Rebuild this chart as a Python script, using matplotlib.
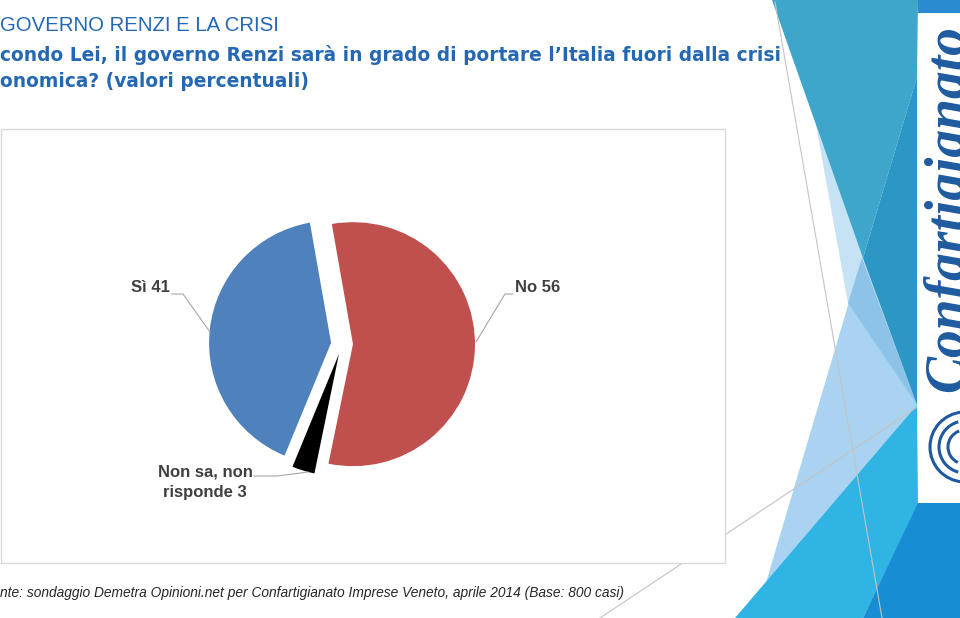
import numpy as np
import matplotlib.pyplot as plt
from matplotlib.patches import Polygon, Rectangle, Arc

# Data
labels = ['No', 'Non sa, non\nrisponde', 'Sì']
values = [56, 3, 41]
colors = ['#C0504D', '#000000', '#4F81BD']
explode = [0.09, 0.085, 0.09]  # fraction of radius

title_1 = 'GOVERNO RENZI E LA CRISI'
title_2 = 'condo Lei, il governo Renzi sarà in grado di portare l’Italia fuori dalla crisi'
title_3 = 'onomica? (valori percentuali)'
source = 'nte: sondaggio Demetra Opinioni.net per Confartigianato Imprese Veneto, aprile 2014 (Base: 800 casi)'

W, H = 960, 618
blue_txt = '#2468B4'

fig = plt.figure(figsize=(W / 100, H / 100), dpi=100)
renderer = fig.canvas.get_renderer()


def fit_width(t, target):
    # scale the font so the text spans target pixels
    w = t.get_window_extent(renderer).width
    t.set_fontsize(t.get_fontsize() * target / w)
    return t.get_fontsize()


# background layer in pixel coordinates
bg = fig.add_axes([0, 0, 1, 1])
bg.set_xlim(0, W)
bg.set_ylim(H, 0)
bg.axis('off')

# decorative shapes on the right
shapes = [
    ([(862, 258), (917, 405), (765, 586)], '#A9D3F0'),
    ([(816, 125), (848, 303), (917, 405)], '#C6E2F5'),
    ([(862, 258), (848, 303), (917, 405)], '#8DC3E8'),
    ([(772, 0), (918, 0), (917, 77), (863, 258)], '#3FA6CB'),
    ([(917, 77), (863, 258), (917, 405)], '#2C96C4'),
    ([(917, 405), (735, 618), (863, 618), (918, 505)], '#2FB4E3'),
    ([(918, 503), (863, 618), (960, 618), (960, 503)], '#178DD4'),
    ([(918, 0), (960, 0), (960, 13), (918, 13)], '#2A8BD0'),
]
for pts, c in shapes:
    bg.add_patch(Polygon(pts, closed=True, facecolor=c, edgecolor='none', zorder=1))

bg.plot([775, 882], [2, 618], color='#C4C4C4', lw=0.8, zorder=3)
bg.plot([917, 600], [407, 618], color='#C4C4C4', lw=0.8, zorder=3)

# logo box
logo_box = Rectangle((919, 13), 41, 490, facecolor='white', edgecolor='none', zorder=4)
bg.add_patch(logo_box)
logo = bg.text(963, 392, 'Confartigianato', rotation=90, rotation_mode='anchor',
               ha='left', va='baseline', fontsize=40, color='#1F5A9F',
               family='Liberation Serif', fontweight='bold', style='italic', zorder=5)
logo.set_clip_path(logo_box)
for w, t1, t2 in [(70, 95, 265), (52, 105, 255), (34, 115, 250)]:
    arc = Arc((965, 447), w, w, theta1=t1, theta2=t2, color='#1F5A9F', lw=2.2, zorder=5)
    bg.add_patch(arc)
    arc.set_clip_path(logo_box)

# chart frame
bg.add_patch(Rectangle((1, 129), 724, 434, facecolor='white', edgecolor='#D9D9D9',
                       lw=1, zorder=6))

# titles
t1 = bg.text(0, 31, title_1, fontsize=17, color=blue_txt, family='Liberation Sans', zorder=7)
fit_width(t1, 280)
t2 = bg.text(0, 61, title_2, fontsize=13, color=blue_txt, family='DejaVu Sans',
             fontweight='bold', zorder=7)
fs = fit_width(t2, 775)
bg.text(0, 87, title_3, fontsize=fs, color=blue_txt, family='DejaVu Sans',
        fontweight='bold', zorder=7)
t4 = bg.text(0, 597, source, fontsize=10, color='#262626', family='Liberation Sans',
             style='italic', zorder=7)
fit_width(t4, 625)

# pie axes, 1 data unit = 1 pixel, origin at pie centre (342, 344)
cx, cy = 342, 344
radius = 122
ax = fig.add_axes([1 / W, (H - 563) / H, 724 / W, 434 / H], zorder=2)
ax.patch.set_alpha(0)
ax.pie(values, colors=colors, explode=[e * radius for e in explode], startangle=100,
       counterclock=False, radius=radius, wedgeprops=dict(linewidth=0))
ax.set_xlim(1 - cx, 725 - cx)
ax.set_ylim(cy - 563, cy - 129)
ax.axis('off')

label_pos = [(173, 56, 'left'), (-137, -138, 'center'), (-172, 56, 'right')]
leaders = [
    [(171, 50), (163, 50), (134, 2)],
    [(-88, -132), (-65, -132), (-34, -128)],
    [(-170, 50), (-159, 50), (-132, 12)],
]
for lab, v, (x, y, ha), pts in zip(labels, values, label_pos, leaders):
    ax.text(x, y, f'{lab} {v}', ha=ha, va='center', fontsize=12, fontweight='bold',
            color='#404040', family='Liberation Sans', linespacing=1.45, clip_on=False)
    xs, ys = zip(*pts)
    ax.plot(xs, ys, color='#A6A6A6', lw=0.8, clip_on=False)

fig.savefig('out.png', dpi=100)
